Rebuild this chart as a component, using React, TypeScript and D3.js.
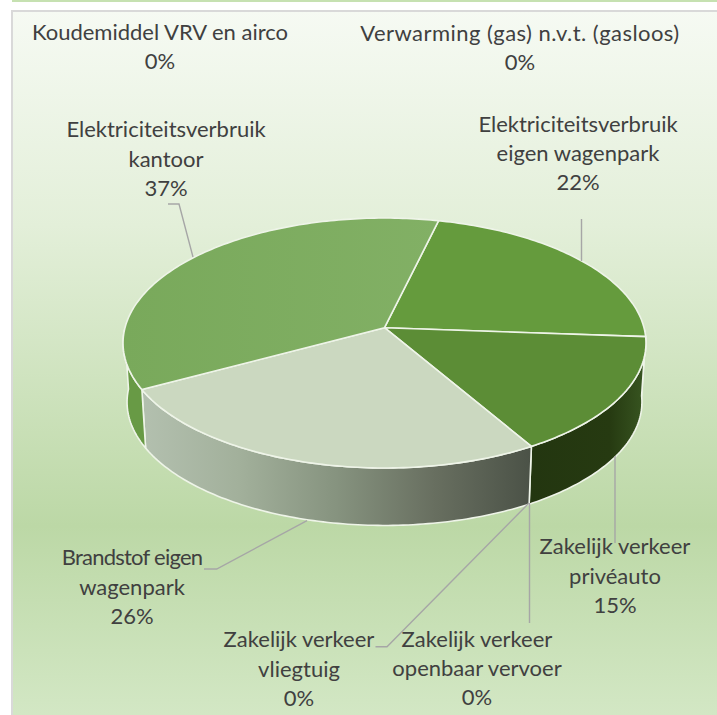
import React from "react";
import * as d3 from "d3";

const categories = [
  ["Elektriciteitsverbruik", "eigen wagenpark"],
  ["Zakelijk verkeer", "privéauto"],
  ["Zakelijk verkeer", "openbaar vervoer"],
  ["Zakelijk verkeer", "vliegtuig"],
  ["Brandstof eigen", "wagenpark"],
  ["Elektriciteitsverbruik", "kantoor"],
  ["Koudemiddel VRV en airco"],
  ["Verwarming (gas) n.v.t. (gasloos)"],
];
const values = [22.4, 15.4, 0, 0, 25.6, 36.6, 0, 0];
const topColors = ["#659b3d", "#5c8d36", "#5c8d36", "#5c8d36", "#cbd8c0", "url(#topKantoor)", "#7fae62", "#7fae62"];
const sideColors = ["url(#sidePrive)", "url(#sidePrive)", "#444", "#444", "url(#sideBrand)", "#689a45", "#689a45", "#689a45"];

// label anchor: centre x, first line baseline y, line height, first-line letter spacing
const labelPos: [number, number, number, number][] = [
  [578, 132, 29, 0],
  [615, 554, 29.5, 0],
  [477, 647, 29, 0],
  [299, 647, 29.5, 0],
  [132, 565, 29.5, -0.75],
  [166, 137, 29.5, 0],
  [160, 40, 29, 0],
  [520, 41, 29, 0.45],
];
const leaders: [number, number][][] = [
  [[581.5, 219], [581.5, 261]],
  [[615, 456], [615, 543]],
  [[529.5, 503], [529.5, 623]],
  [[529, 503], [387, 646.7], [375.5, 646.7]],
  [[307, 520.7], [216.7, 569], [204, 569]],
  [[168, 204], [179, 204], [193, 257]],
];

const W = 717, H = 715;
const DEG = Math.PI / 180;
const K = 0.1224;
const project = (a: number, depth: number): [number, number] => {
  const u = Math.sin(a), v = Math.cos(a), den = 1 + K * v;
  const A = depth ? 255.5 : 259.5, B = depth ? 121.5 : 123.1, Y0 = depth ? 387 : 327.7;
  return [384.5 + (A * u) / den, Y0 - (B * v) / den];
};

export default function App() {
  const start = 13.5 * DEG;
  const arcs = d3.pie<number>().sort(null).startAngle(start).endAngle(start + 2 * Math.PI)(values);
  const line = d3.line();
  const fmt = d3.format(".0f");
  const rim = (a0: number, a1: number, depth: number) => {
    const n = Math.max(2, Math.ceil(Math.abs(a1 - a0) / (1 * DEG)));
    return d3.range(n + 1).map((i) => project(a0 + ((a1 - a0) * i) / n, depth));
  };
  const c: [number, number] = [384.5, 327.7];
  const visLo = 91 * DEG, visHi = 269 * DEG;
  return (
    <svg width={W} height={H} style={{ position: "fixed", left: 0, top: 0 }} fontFamily="Lato, Carlito, sans-serif">
      <defs>
        <linearGradient id="bg" x1="0" y1="0" x2="0" y2="1">
          <stop offset="0" stopColor="#f6faf3" />
          <stop offset="0.3" stopColor="#e3efd9" />
          <stop offset="0.72" stopColor="#bcd8a6" />
          <stop offset="1" stopColor="#d4e8c6" />
        </linearGradient>
        <linearGradient id="topKantoor" gradientUnits="userSpaceOnUse" x1="123" x2="440" y1="0" y2="0">
          <stop offset="0" stopColor="#79a95b" />
          <stop offset="1" stopColor="#82b065" />
        </linearGradient>
        <linearGradient id="sideBrand" gradientUnits="userSpaceOnUse" x1="142" x2="531" y1="0" y2="0">
          <stop offset="0" stopColor="#b3c0af" />
          <stop offset="0.25" stopColor="#a2b09b" />
          <stop offset="0.5" stopColor="#86937f" />
          <stop offset="0.75" stopColor="#686f60" />
          <stop offset="1" stopColor="#4b5247" />
        </linearGradient>
        <linearGradient id="sidePrive" gradientUnits="userSpaceOnUse" x1="531" x2="643" y1="0" y2="0">
          <stop offset="0" stopColor="#233610" />
          <stop offset="0.7" stopColor="#263a11" />
          <stop offset="1" stopColor="#375420" />
        </linearGradient>
      </defs>
      <rect x="12" y="0" width={W - 12} height="2" fill="#c6e1b1" />
      <rect x="12" y="11" width={W + 10} height={H} fill="url(#bg)" stroke="#d9d9d9" strokeWidth="2" />

      {arcs.map((d, i) => {
        const a0 = Math.max(d.startAngle, visLo), a1 = Math.min(d.endAngle, visHi);
        if (a1 <= a0 || d.value === 0) return null;
        const pts = [...rim(a0, a1, 0), ...rim(a1, a0, 1)];
        return <path key={i} d={line(pts)! + "Z"} fill={sideColors[i]} stroke="#eef4e8" strokeWidth={1.6} strokeLinejoin="round" />;
      })}
      {arcs.map((d, i) =>
        d.value === 0 ? null : (
          <path
            key={i}
            d={line([c, ...rim(d.startAngle, d.endAngle, 0)])! + "Z"}
            fill={topColors[i]}
            stroke="#eef4e8"
            strokeWidth={1.6}
            strokeLinejoin="round"
          />
        )
      )}
      {leaders.map((l, i) => (
        <path key={i} d={line(l)!} fill="none" stroke="#a6a6a6" strokeWidth={1.4} />
      ))}
      {categories.map((lines, i) => {
        const [x, y, lh, ls] = labelPos[i];
        return (
          <text key={i} x={x} y={y} textAnchor="middle" fontSize={22} fill="#404040">
            {[...lines, fmt(values[i]) + "%"].map((t, j) => (
              <tspan key={j} x={x} dy={j === 0 ? 0 : lh} letterSpacing={j === 0 ? ls : 0}>
                {t}
              </tspan>
            ))}
          </text>
        );
      })}
    </svg>
  );
}
